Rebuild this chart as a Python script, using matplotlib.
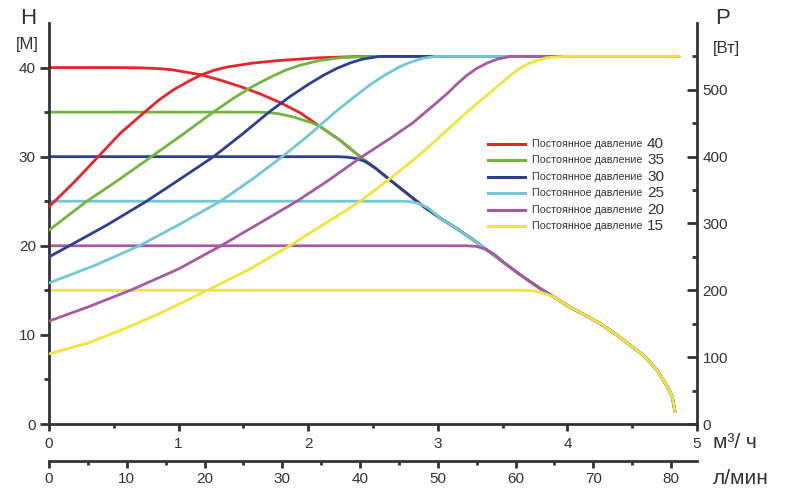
import numpy as np
import matplotlib
matplotlib.use("Agg")
import matplotlib.pyplot as plt
from matplotlib.lines import Line2D
from matplotlib.ticker import MultipleLocator

plt.rcParams['font.family'] = ['Liberation Sans', 'DejaVu Sans']

# pump head curve at full speed (H, m vs Q, m3/h)
max_q = [0, 0.5, 0.7, 0.85, 0.95, 1.05, 1.17, 1.32, 1.47, 1.62, 1.78, 1.94, 2.09,
         2.25, 2.40, 2.52, 2.63, 2.76, 2.89, 3.02, 3.15, 3.28, 3.40, 3.52, 3.65,
         3.79, 3.89, 4.02, 4.14, 4.25, 4.37, 4.48, 4.57, 4.64, 4.70, 4.74, 4.78,
         4.81, 4.83]
max_h = [40, 40, 39.97, 39.88, 39.75, 39.5, 39.2, 38.6, 37.9, 37.1, 36.1, 34.9, 33.4,
         31.8, 30.0, 28.7, 27.4, 25.9, 24.4, 23.1, 21.9, 20.6, 19.3, 18.0, 16.6,
         15.2, 14.3, 13.1, 12.2, 11.3, 10.1, 8.9, 7.9, 6.9, 5.9, 4.9, 4.0,
         3.0, 1.4]

# constant pressure heads: flat part + bend, then joins the full speed curve
head_q = {
    40: [0, 0.45],
    35: [0, 1.60, 1.66, 1.72, 1.78, 1.84, 1.90, 1.96, 2.02],
    30: [0, 2.22, 2.30, 2.37, 2.44],
    25: [0, 2.72, 2.79, 2.85, 2.92],
    20: [0, 3.22, 3.30, 3.37, 3.44],
    15: [0, 3.66, 3.73, 3.80, 3.86],
}
head_h = {
    40: [40, 40],
    35: [35, 35, 34.97, 34.9, 34.8, 34.6, 34.4, 34.1, 33.85],
    30: [30, 30, 29.95, 29.8, 29.45],
    25: [25, 25, 24.95, 24.75, 24.3],
    20: [20, 20, 19.93, 19.6, 19.0],
    15: [15, 15, 14.95, 14.75, 14.45],
}

# power curves (P, W vs Q, m3/h)
pow_q = {
    40: [0, 0.2, 0.38, 0.55, 0.74, 0.85, 0.96, 1.07, 1.17, 1.27, 1.37, 1.57, 1.78,
         2.09, 2.4, 4.86],
    35: [0, 0.29, 0.55, 0.79, 1.03, 1.27, 1.42, 1.57, 1.70, 1.82, 1.94, 2.09, 2.25,
         2.45, 4.86],
    30: [0, 0.16, 0.45, 0.75, 1.0, 1.27, 1.50, 1.70, 1.86, 2.0, 2.12, 2.22, 2.32,
         2.42, 2.55, 4.86],
    25: [0, 0.35, 0.70, 1.0, 1.32, 1.56, 1.80, 2.01, 2.21, 2.36, 2.48, 2.60, 2.71,
         2.80, 2.88, 2.98, 4.86],
    20: [0, 0.3, 0.64, 1.0, 1.33, 1.62, 1.91, 2.16, 2.40, 2.63, 2.81, 2.95, 3.07,
         3.15, 3.22, 3.30, 3.38, 3.46, 3.56, 4.86],
    15: [0, 0.3, 0.55, 0.85, 1.20, 1.55, 1.86, 2.13, 2.40, 2.61, 2.83, 2.96, 3.22,
         3.43, 3.55, 3.63, 3.72, 3.84, 3.97, 4.86],
}
pow_p = {
    40: [325, 363, 400, 435, 467, 485, 500, 512, 522, 529, 534, 540, 544,
         548, 550, 550],
    35: [290, 333, 367, 400, 433, 467, 487, 505, 518, 529, 537, 544, 548,
         550, 550],
    30: [250, 267, 298, 333, 365, 400, 435, 467, 490, 508, 522, 532, 540,
         546, 550, 550],
    25: [211, 237, 267, 298, 333, 365, 400, 433, 467, 490, 508, 523, 535,
         542, 547, 550, 550],
    20: [154, 175, 201, 232, 267, 300, 333, 365, 398, 427, 451, 474, 494,
         509, 521, 532, 540, 546, 550, 550],
    15: [105, 121, 140, 165, 198, 232, 267, 300, 333, 364, 398, 420, 466,
         500, 520, 532, 541, 548, 550, 550],
}

levels = [40, 35, 30, 25, 20, 15]
colors = {40: '#e6242b', 35: '#72b63f', 30: '#2e3f93', 25: '#74c7d4',
          20: '#a65aa2', 15: '#f1e53a'}

dark = '#333333'
lw = 2.0

fig = plt.figure(figsize=(8, 5), dpi=100)
ax = fig.add_axes([49 / 800, 1 - 424 / 500, 648 / 800, 401 / 500])
ax2 = ax.twinx()

mq = np.array(max_q)
mh = np.array(max_h)
for lev in levels:
    hq = head_q[lev]
    hh = head_h[lev]
    keep = mq > hq[-1]
    q = np.concatenate([hq, mq[keep]])
    h = np.concatenate([hh, mh[keep]])
    ax.plot(q, h, color=colors[lev], lw=lw, solid_capstyle='round',
            solid_joinstyle='round')
    ax2.plot(pow_q[lev], pow_p[lev], color=colors[lev], lw=lw,
             solid_capstyle='round', solid_joinstyle='round')

ax.set_xlim(0, 5)
ax.set_ylim(0, 45)
ax2.set_ylim(0, 600)

for a in (ax, ax2):
    a.spines['top'].set_visible(False)
    for s in a.spines.values():
        s.set_color(dark)
        s.set_linewidth(2)
ax.spines['right'].set_visible(False)
ax2.spines['left'].set_visible(False)
ax2.spines['bottom'].set_visible(False)

ax.xaxis.set_major_locator(MultipleLocator(1))
ax.xaxis.set_minor_locator(MultipleLocator(0.5))
ax.yaxis.set_major_locator(MultipleLocator(10))
ax.set_yticks([5, 15, 25, 35], minor=True)
ax2.set_yticks([0, 100, 200, 300, 400, 500])
ax2.set_yticks([50, 150, 250, 350, 450, 550], minor=True)

ax.tick_params(axis='x', which='major', length=5, width=2, pad=4,
               labelsize=11, color=dark, labelcolor=dark)
ax.tick_params(axis='x', which='minor', length=3, width=2, color=dark)
ax.tick_params(axis='y', which='major', length=6.5, width=2, pad=3,
               labelsize=11, color=dark, labelcolor=dark)
ax.tick_params(axis='y', which='minor', length=3.5, width=2, color=dark)
ax2.tick_params(axis='y', which='major', direction='in', length=7, width=2, pad=4,
                labelsize=11, color=dark, labelcolor=dark)
ax2.tick_params(axis='y', which='minor', direction='in', length=3.5, width=2,
                color=dark)

# second flow scale in l/min
secax = ax.secondary_xaxis(-37 / 401, functions=(lambda q: q * 1000 / 60,
                                                  lambda l: l * 60 / 1000))
secax.set_xticks([0, 10, 20, 30, 40, 50, 60, 70, 80])
secax.set_xticks([5, 15, 25, 35, 45, 55, 65, 75], minor=True)
secax.spines['bottom'].set_color(dark)
secax.spines['bottom'].set_linewidth(2)
secax.tick_params(which='major', length=5, width=2, pad=3, labelsize=11,
                  color=dark, labelcolor=dark)
secax.tick_params(which='minor', length=3, width=2, color=dark)

# axis titles
fig.text(28 / 800, 1 - 18 / 500, 'H', fontsize=16, color=dark, ha='center', va='center')
fig.text(27 / 800, 1 - 45 / 500, '[M]', fontsize=12, color=dark, ha='center', va='center')
fig.text(723 / 800, 1 - 19 / 500, 'P', fontsize=16, color=dark, ha='center', va='center')
fig.text(726 / 800, 1 - 48 / 500, '[Вт]', fontsize=12, color=dark, ha='center', va='center')
fig.text(713 / 800, 1 - 442 / 500, 'м³/ ч', fontsize=15, color=dark, ha='left', va='center')
fig.text(713 / 800, 1 - 478 / 500, 'л/мин', fontsize=15, color=dark, ha='left', va='center')

# legend drawn by hand (small text + large number)
for i, lev in enumerate(levels):
    y = 1 - (144 + 16.4 * i) / 500
    fig.add_artist(Line2D([488 / 800, 525 / 800], [y, y], transform=fig.transFigure,
                          color=colors[lev], lw=2.2))
    fig.text(532 / 800, y, 'Постоянное давление', fontsize=7.7, color=dark,
             ha='left', va='center')
    fig.text(647 / 800, y, str(lev), fontsize=11, color=dark, ha='left', va='center')

fig.savefig('out.png', dpi=100)
